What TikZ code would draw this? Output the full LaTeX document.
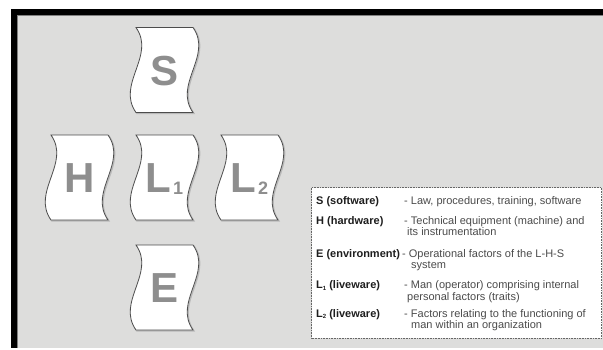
\documentclass[tikz,border=0pt]{standalone}
\usepackage{fontspec}
\setmainfont{Liberation Sans}
\definecolor{panel}{HTML}{DDDDDC}
\definecolor{letter}{HTML}{8E8E8E}
\definecolor{rim}{HTML}{4C4C4C}
\definecolor{ink}{HTML}{1E1E1E}
\tikzset{
  tile/.style={fill=white, draw=rim, line width=0.8pt},
  tileshade/.style={draw=gray!55, line width=1.4pt},
  big/.style={text=letter, font=\fontsize{42}{42}\selectfont\bfseries, anchor=base, inner sep=0pt},
  key/.style={text=ink, font=\fontsize{11}{12}\selectfont\bfseries, anchor=base west, inner sep=0pt},
  desc/.style={text=ink!80, font=\fontsize{11}{12}\selectfont, anchor=base west, inner sep=0pt},
}
\newcommand{\subnum}[1]{\kern1.5pt\raisebox{-1.5pt}{\fontsize{18}{18}\selectfont #1}}
\newcommand{\keysub}[1]{\raisebox{-1.5pt}{\fontsize{6}{6}\selectfont #1}}

\begin{document}
\begin{tikzpicture}[x=1pt, y=-1pt]
        \useasboundingbox (0,0) rectangle (603,349);
        \fill[white] (0,0) rectangle (603,349);

        % frame
        \fill[panel] (17,15) rectangle (603,348);
        \fill[black] (11,9) rectangle (603,15);
        \fill[black] (11,9) rectangle (17,348);
        \draw[gray, line width=0.8pt] (17.4,348) -- (17.4,15.4) -- (603,15.4);

        % wavy tiles
        \def\tw{57}
        \def\th{85}
        \def\c{20}
        \foreach \x/\y/\n/\lbl in {136/27.5/S/S, 51/135/H/H, 136/135/Lone/L\subnum{1}, 221/135/Ltwo/L\subnum{2}, 136/245/E/E} {
            \draw[tileshade, xshift=0.9pt, yshift=-0.9pt] (\x,\y) -- ({\x+\tw},\y) .. controls ({\x+\tw+\c},{\y+\th/3}) and ({\x+\tw-\c},{\y+2*\th/3}) .. ({\x+\tw},{\y+\th}) -- (\x,{\y+\th}) .. controls ({\x-\c},{\y+2*\th/3}) and ({\x+\c},{\y+\th/3}) .. (\x,\y) -- cycle;
            \draw[tile] (\x,\y) -- ({\x+\tw},\y) .. controls ({\x+\tw+\c},{\y+\th/3}) and ({\x+\tw-\c},{\y+2*\th/3}) .. ({\x+\tw},{\y+\th}) -- (\x,{\y+\th}) .. controls ({\x-\c},{\y+2*\th/3}) and ({\x+\c},{\y+\th/3}) .. (\x,\y) -- cycle;
            \node[big] (\n) at ({\x+\tw/2},{\y+\th/2+15}) {\lbl};
        }

        % legend
        \draw[densely dotted, draw=gray!80!black, fill=white, line width=0.6pt] (311.5,187.5) rectangle (601.5,338);

        \node[key] (kS) at (316,204) {S (software)};
        \node[key] (kH) at (316,224) {H (hardware)};
        \node[key] (kE) at (316,257) {E (environment)};
        \node[key] (kLone) at (316,288.5) {L\keysub{1} (liveware)};
        \node[key] (kLtwo) at (316,317) {L\keysub{2} (liveware)};

        \node[desc] (dS) at (404,204) {- Law, procedures, training, software};
        \node[desc] (dH) at (404,224) {- Technical equipment (machine) and};
        \node[desc] (dHb) at (407,235.5) {its instrumentation};
        \node[desc] (dE) at (402,257) {- Operational factors of the L-H-S};
        \node[desc] (dEb) at (411,268.5) {system};
        \node[desc] (dLone) at (404,288.5) {- Man (operator) comprising internal};
        \node[desc] (dLoneb) at (407,300) {personal factors (traits)};
        \node[desc] (dLtwo) at (404,317) {- Factors relating to the functioning of};
        \node[desc] (dLtwob) at (411,328.5) {man within an organization};
\end{tikzpicture}
\end{document}
